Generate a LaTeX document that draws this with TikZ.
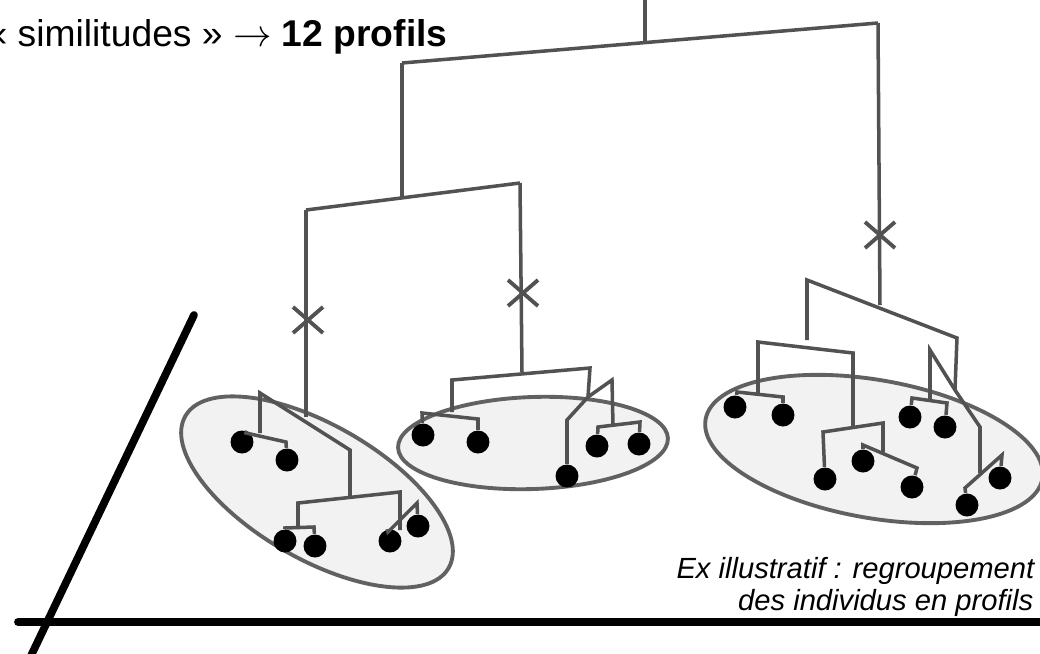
\documentclass[tikz,border=0pt]{standalone}
\usepackage{fontspec}
\setmainfont{Liberation Sans}
\usetikzlibrary{positioning}

\tikzset{
  branch/.style={draw=black!68, line width=1pt},
  ind/.style={circle, fill=black, inner sep=0pt, minimum size=2.3mm},
  cluster/.style={draw=black!62, line width=1.1pt, fill=black!5},
  cutmark/.style={draw=black!68, line width=1.1pt},
  axis/.style={draw=black, line width=2.2pt, line cap=round},
}
\newcommand{\coupe}[1]{\draw[cutmark, shift={(#1)}] (-15,-13) -- (15,13) (-15,13) -- (15,-13);}

\begin{document}
\begin{tikzpicture}[x=0.1mm, y=-0.1mm]
\useasboundingbox (0,0) rectangle (1040,654);

% profils
\draw[cluster, rotate around={-30:(317,492)}] (317,492) ellipse [x radius=152, y radius=67];
\draw[cluster, rotate around={2:(533,443)}] (533,443) ellipse [x radius=135, y radius=46];
\draw[cluster, rotate around={-10:(874,449)}] (874,449) ellipse [x radius=171, y radius=69];

% individus
\node[ind] (i1) at (242,442) {};
\node[ind] (i2) at (287,460) {};
\node[ind] (i3) at (285,541) {};
\node[ind] (i4) at (315,546) {};
\node[ind] (i5) at (390,541) {};
\node[ind] (i6) at (418,526) {};
\node[ind] (i7) at (423,435) {};
\node[ind] (i8) at (478,442) {};
\node[ind] (i9) at (567,476) {};
\node[ind] (i10) at (597,446) {};
\node[ind] (i11) at (639,444) {};
\node[ind] (i12) at (735,407) {};
\node[ind] (i13) at (783,415) {};
\node[ind] (i14) at (825,479) {};
\node[ind] (i15) at (863,461) {};
\node[ind] (i16) at (912,487) {};
\node[ind] (i17) at (910,417) {};
\node[ind] (i18) at (945,427) {};
\node[ind] (i19) at (967,505) {};
\node[ind] (i20) at (1000,478) {};

% arbre
\coordinate (racine) at (645,0);
\coordinate (g) at (402,63);
\coordinate (d) at (878,23);
\draw[branch] (racine) -- (645,43);
\draw[branch] (g) -- (d);
\draw[branch] (g) -- (402,198);
\draw[branch] (306,210) -- (520,183);
\draw[branch] (306,210) -- (306,417);
\draw[branch] (520,183) -- (522,372);
\draw[branch] (d) -- (880,305);

% profil 1
\draw[branch] (260,433) -- (260,393) -- (350,450) -- (350,497);
\draw[branch] (298,527) -- (298,503) -- (400,492) -- (400,530);
\draw[branch] (i1) -- (246,433) -- (286,442) -- (i2);
\draw[branch] (i3) -- (285,528) -- (314,527) -- (i4);
\draw[branch] (i5) -- (388,532) -- (417,503) -- (i6);

% profil 2
\draw[branch] (452,412) -- (452,380) -- (590,368) -- (588,397);
\draw[branch] (i7) -- (422,413) -- (478,419) -- (i8);
\draw[branch] (i9) -- (567,420) -- (588,397) -- (612,380) -- (613,425);
\draw[branch] (i10) -- (598,427) -- (640,422) -- (i11);

% profil 3
\draw[branch] (807,340) -- (807,280) -- (957,338) -- (955,390);
\draw[branch] (758,393) -- (758,342) -- (853,353) -- (853,428);
\draw[branch] (i12) -- (737,392) -- (783,397) -- (i13);
\draw[branch] (i14) -- (823,432) -- (883,423) -- (883,452);
\draw[branch] (i15) -- (863,445) -- (917,468) -- (i16);
\draw[branch] (930,400) -- (930,350) -- (955,390) -- (980,427) -- (980,473);
\draw[branch] (i17) -- (912,398) -- (947,403) -- (i18);
\draw[branch] (i19) -- (965,488) -- (1002,455) -- (i20);

\coupe{308,320}
\coupe{523,293}
\coupe{880,235}

\draw[axis] (18,622) -- (1050,622);
\draw[axis] (194,315) -- (28,662);

\node[anchor=base west, inner sep=0pt, font=\fontsize{10.6}{12}\selectfont] (titre) at (-14,46)
  {«~similitudes~» $\rightarrow$ \textbf{12 profils}};
\node[anchor=base east, inner sep=0pt, font=\fontsize{8.3}{10}\selectfont\itshape] (ex1) at (1035,578)
  {Ex illustratif : regroupement};
\node[anchor=base east, inner sep=0pt, font=\fontsize{8.3}{10}\selectfont\itshape] (ex2) at (1034,610)
  {des individus en profils};
\end{tikzpicture}
\end{document}
